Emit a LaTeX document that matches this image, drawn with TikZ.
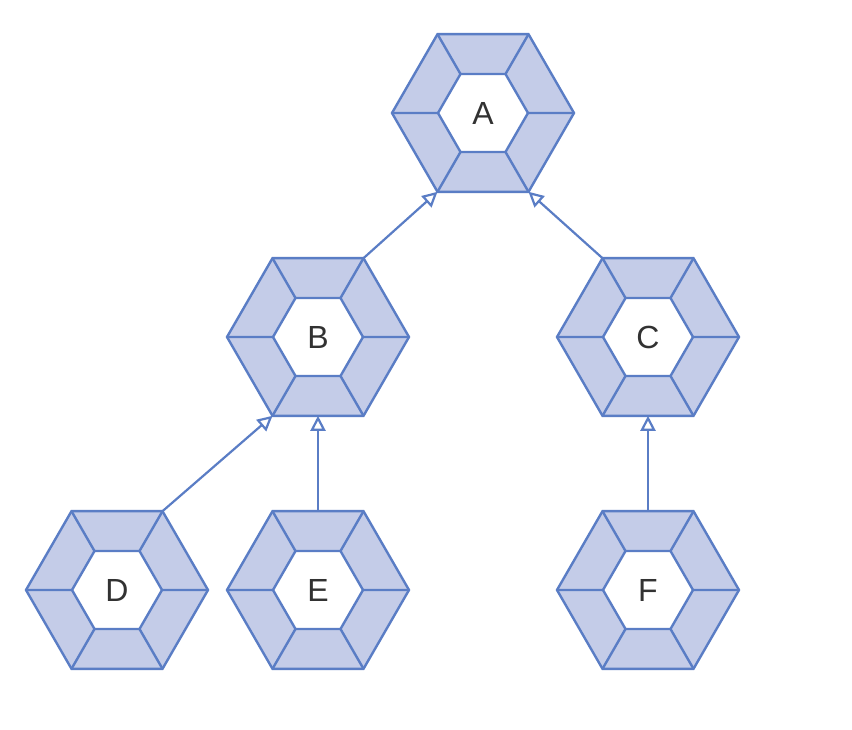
\documentclass[tikz,border=0pt]{standalone}
\usepackage{fontspec}
\setmainfont{Liberation Sans}
\usetikzlibrary{shapes.geometric,arrows.meta,calc}
\definecolor{hexline}{RGB}{90,125,197}
\definecolor{hexfill}{RGB}{196,204,232}
\definecolor{txt}{RGB}{50,50,50}
\tikzset{
  hexnode/.style={regular polygon, regular polygon sides=6, minimum size=182pt,
    draw=hexline, fill=hexfill, line width=2.4pt, outer sep=0pt, inner sep=0pt,
    text=txt, font=\fontsize{32}{38}\selectfont},
  hexline/.style={draw=hexline, line width=2.4pt, line join=round},
  label/.style={text=txt, font=\fontsize{32}{38}\selectfont},
  arr/.style={draw=hexline, line width=2.2pt, -{Triangle[open, length=15pt, width=15pt]}}
}
\begin{document}
\begin{tikzpicture}[x=1pt,y=-1pt]
\useasboundingbox (0,0) rectangle (852,730);
\fill[white] (0,0) rectangle (852,730);
\node[hexnode] (A) at (483,113) {\phantom{A}};
\node[hexnode] (B) at (318,337) {\phantom{B}};
\node[hexnode] (C) at (648,337) {\phantom{C}};
\node[hexnode] (D) at (117,590) {\phantom{D}};
\node[hexnode] (E) at (318,590) {\phantom{E}};
\node[hexnode] (F) at (648,590) {\phantom{F}};
\foreach \n in {A,B,C,D,E,F}{
  \draw[hexline, fill=white]
    ($(\n.center)+(0:45pt)$) -- ($(\n.center)+(60:45pt)$) -- ($(\n.center)+(120:45pt)$)
    -- ($(\n.center)+(180:45pt)$) -- ($(\n.center)+(240:45pt)$) -- ($(\n.center)+(300:45pt)$) -- cycle;
  \foreach \a in {0,60,...,300}{
    \draw[hexline] (\n.\a) -- ($(\n.center)+(\a:45pt)$);
  }
  \node[label] (L\n) at (\n.center) {\n};
}
\draw[arr] (B.60) -- (A.240);
\draw[arr] (C.120) -- (A.300);
\draw[arr] (D.60) -- (B.240);
\draw[arr] (E.north) -- (B.south);
\draw[arr] (F.north) -- (C.south);
\end{tikzpicture}
\end{document}
